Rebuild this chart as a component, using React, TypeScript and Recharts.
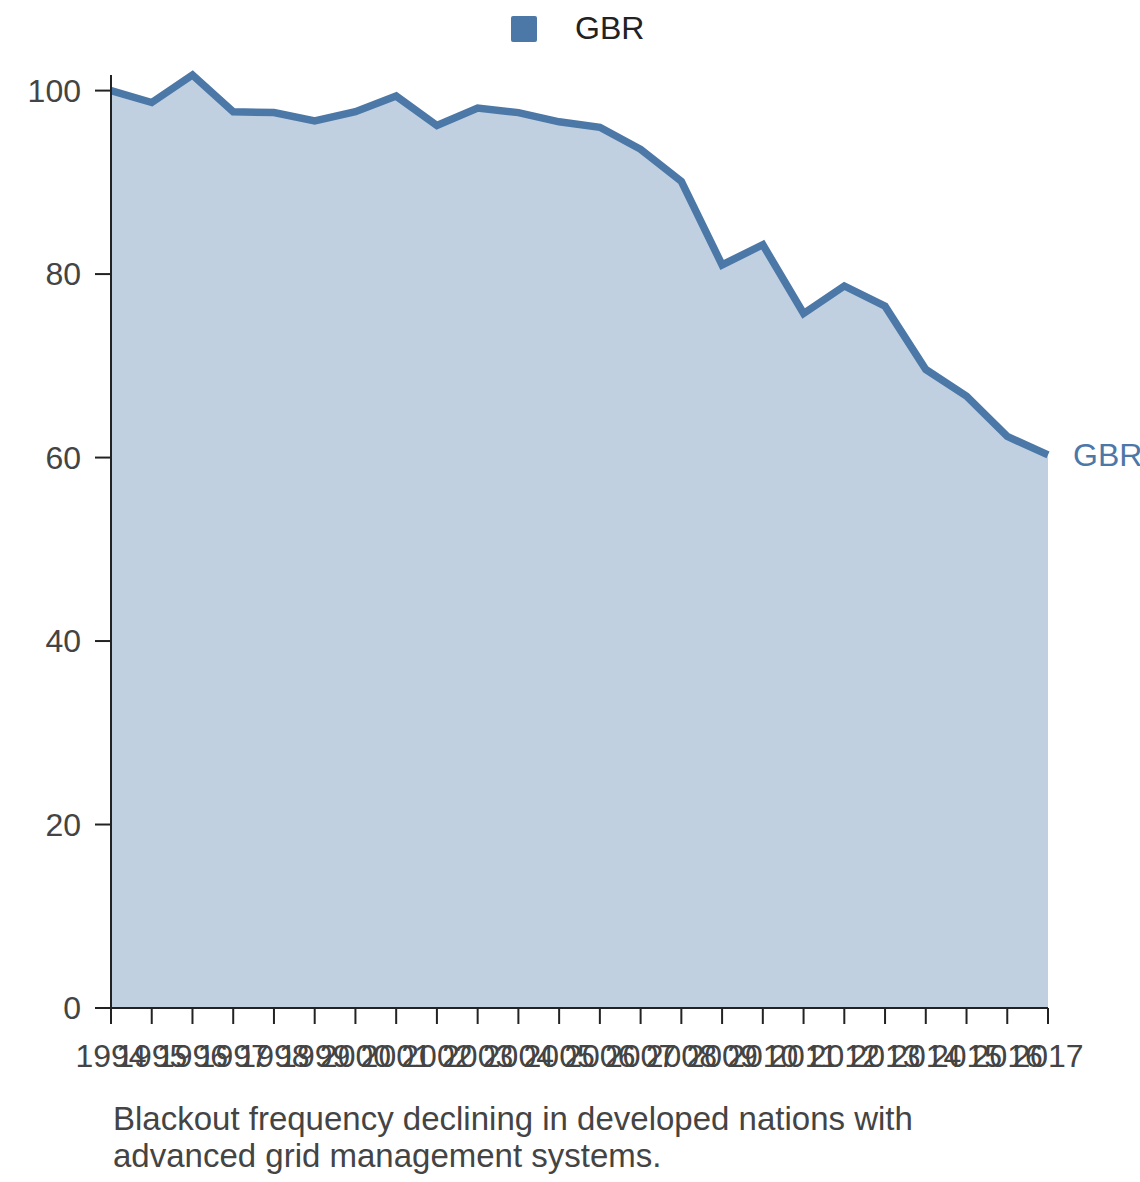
import React from "react";
import { AreaChart, Area, XAxis, YAxis, LabelList } from "recharts";

const years: string[] = [
  "1994", "1995", "1996", "1997", "1998", "1999", "2000", "2001", "2002", "2003", "2004", "2005",
  "2006", "2007", "2008", "2009", "2010", "2011", "2012", "2013", "2014", "2015", "2016", "2017",
];
const gbrValues: number[] = [
  100, 98.7, 101.7, 97.7, 97.6, 96.7, 97.7, 99.4, 96.2, 98.1, 97.6, 96.6,
  96.0, 93.6, 90.1, 81.0, 83.2, 75.7, 78.7, 76.5, 69.6, 66.7, 62.3, 60.3,
];
const yTicks: number[] = [0, 20, 40, 60, 80, 100];
const seriesName = "GBR";
const caption = [
  "Blackout frequency declining in developed nations with",
  "advanced grid management systems.",
];

const data = years.map((y, i) => ({ year: y, value: gbrValues[i] }));

const FONT = "'Liberation Sans', Arial, Helvetica, sans-serif";
const COLOR = "#4c78a8";

const EndLabel = (props: any) => {
  const { x, y, index } = props;
  if (index !== data.length - 1) return null;
  return (
    <text x={x + 25} y={y} dy="0.35em" fill={COLOR} fontSize={32} fontFamily={FONT}>
      {seriesName}
    </text>
  );
};

export default function App() {
  return (
    <div style={{ position: "absolute", left: 0, top: 0, width: 1140, height: 1182, background: "#fff", overflow: "hidden" }}>
      <div
        style={{
          position: "absolute",
          left: 511,
          top: 10,
          display: "flex",
          alignItems: "center",
          fontFamily: FONT,
          fontSize: 32,
          color: "#222",
        }}
      >
        <div style={{ width: 26, height: 26, background: COLOR, borderRadius: 2, marginRight: 38 }} />
        <span>{seriesName}</span>
      </div>
      <AreaChart
        width={1140}
        height={1182}
        data={data}
        margin={{ top: 75, right: 92, bottom: 104, left: 0 }}
      >
        <XAxis
          dataKey="year"
          interval={0}
          tickSize={16}
          tickMargin={20}
          axisLine={{ stroke: "#222", strokeWidth: 2 }}
          tickLine={{ stroke: "#222", strokeWidth: 2 }}
          tick={{ fill: "#444", fontSize: 32, fontFamily: FONT }}
          height={70}
          padding={{ left: 0, right: 0 }}
        />
        <YAxis
          width={111}
          domain={[0, "dataMax"]}
          ticks={yTicks}
          tickSize={16}
          tickMargin={14}
          axisLine={{ stroke: "#222", strokeWidth: 2 }}
          tickLine={{ stroke: "#222", strokeWidth: 2 }}
          tick={{ fill: "#444", fontSize: 32, fontFamily: FONT }}
        />
        <Area
          type="linear"
          dataKey="value"
          stroke={COLOR}
          strokeWidth={7.5}
          fill={COLOR}
          fillOpacity={0.35}
          isAnimationActive={false}
          dot={false}
          activeDot={false}
        >
          <LabelList dataKey="value" content={EndLabel} />
        </Area>
      </AreaChart>
      <div
        style={{
          position: "absolute",
          left: 113,
          top: 1101,
          fontFamily: FONT,
          fontSize: 33,
          lineHeight: "36.5px",
          color: "#444",
          whiteSpace: "nowrap",
        }}
      >
        {caption.map((c) => (
          <div key={c}>{c}</div>
        ))}
      </div>
    </div>
  );
}
